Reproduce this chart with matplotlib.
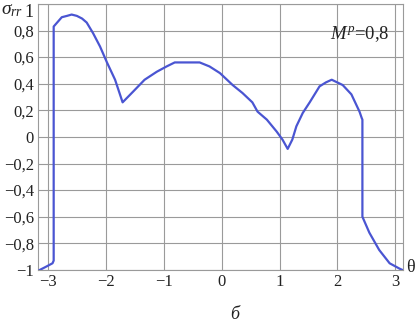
import matplotlib
matplotlib.use("Agg")
import matplotlib.pyplot as plt
import matplotlib.transforms as mtrans
import numpy as np

theta = [-3.14, -3.05, -2.92, -2.90, -2.90, -2.84, -2.76, -2.67, -2.59, -2.50, -2.41, -2.33,
         -2.22, -2.10, -1.98, -1.84, -1.71, -1.53, -1.33, -1.12, -0.95, -0.81, -0.60,
         -0.38, -0.21, -0.03, 0.19, 0.36, 0.53, 0.62, 0.78, 0.95, 1.05, 1.14, 1.22,
         1.29, 1.40, 1.52, 1.69, 1.80, 1.90, 2.09, 2.24, 2.38, 2.42, 2.43, 2.43, 2.55,
         2.72, 2.90, 3.07, 3.12]
sigma = [-1.00, -0.98, -0.95, -0.93, 0.83, 0.86, 0.90, 0.91, 0.92, 0.91, 0.89, 0.86,
         0.78, 0.68, 0.56, 0.43, 0.26, 0.34, 0.43, 0.49, 0.53, 0.56, 0.56,
         0.56, 0.53, 0.48, 0.39, 0.33, 0.26, 0.19, 0.13, 0.04, -0.02, -0.09, -0.02,
         0.08, 0.18, 0.26, 0.38, 0.41, 0.43, 0.39, 0.32, 0.19, 0.14, 0.13, -0.60, -0.72,
         -0.85, -0.95, -0.99, -1.00]

xticks = [-3, -2, -1, 0, 1, 2, 3]
yticks = [-1, -0.8, -0.6, -0.4, -0.2, 0, 0.2, 0.4, 0.6, 0.8, 1]

def fmt(v):
    s = ("%g" % round(v, 1)).replace(".", ",").replace("-", "\u2212")
    return s

plt.rcParams['font.family'] = ['Liberation Serif', 'DejaVu Serif']
plt.rcParams['mathtext.fontset'] = 'custom'
plt.rcParams['mathtext.rm'] = 'Liberation Serif'
plt.rcParams['mathtext.it'] = 'Liberation Serif:italic'

fig = plt.figure(figsize=(4.18, 3.26), dpi=100)
ax = fig.add_axes([0.091, 0.172, 0.873, 0.816])
ax.plot(theta, sigma, color='#4a55d2', lw=1.6, zorder=3)
ax.set_xlim(-3.17, 3.13)
ax.set_ylim(-1, 1)
ax.set_xticks(xticks)
ax.set_xticklabels([fmt(v) for v in xticks])
ax.set_yticks(yticks)
ax.set_yticklabels([fmt(v) for v in yticks])
ax.tick_params(length=0, labelsize=12, pad=3, colors='#222222')
ax.grid(True, color='#9a9a9a', lw=0.8)
for s in ax.spines.values():
    s.set_color('#9a9a9a')
    s.set_linewidth(0.8)

# top "1" label sits slightly below its grid line, as in the reference
top_lbl = ax.get_yticklabels()[-1]
top_lbl.set_fontsize(13)
top_lbl.set_transform(top_lbl.get_transform() +
                      mtrans.ScaledTranslation(0, -7 / 100, fig.dpi_scale_trans))

fig.text(0.003, 0.955, r'$\sigma_{rr}$', fontsize=14, color='#222222')
ax.text(0.964, 0.885, r'$M^p$=0,8', transform=ax.transAxes, ha='right', va='center',
        fontsize=13.5, color='#222222')
fig.text(0.983, 0.178, '\u03b8', fontsize=13, color='#222222', ha='center', va='center')
fig.text(0.562, 0.035, '\u0431', fontsize=13, style='italic', color='#222222', ha='center', va='center')

fig.savefig('out.png', dpi=100)
